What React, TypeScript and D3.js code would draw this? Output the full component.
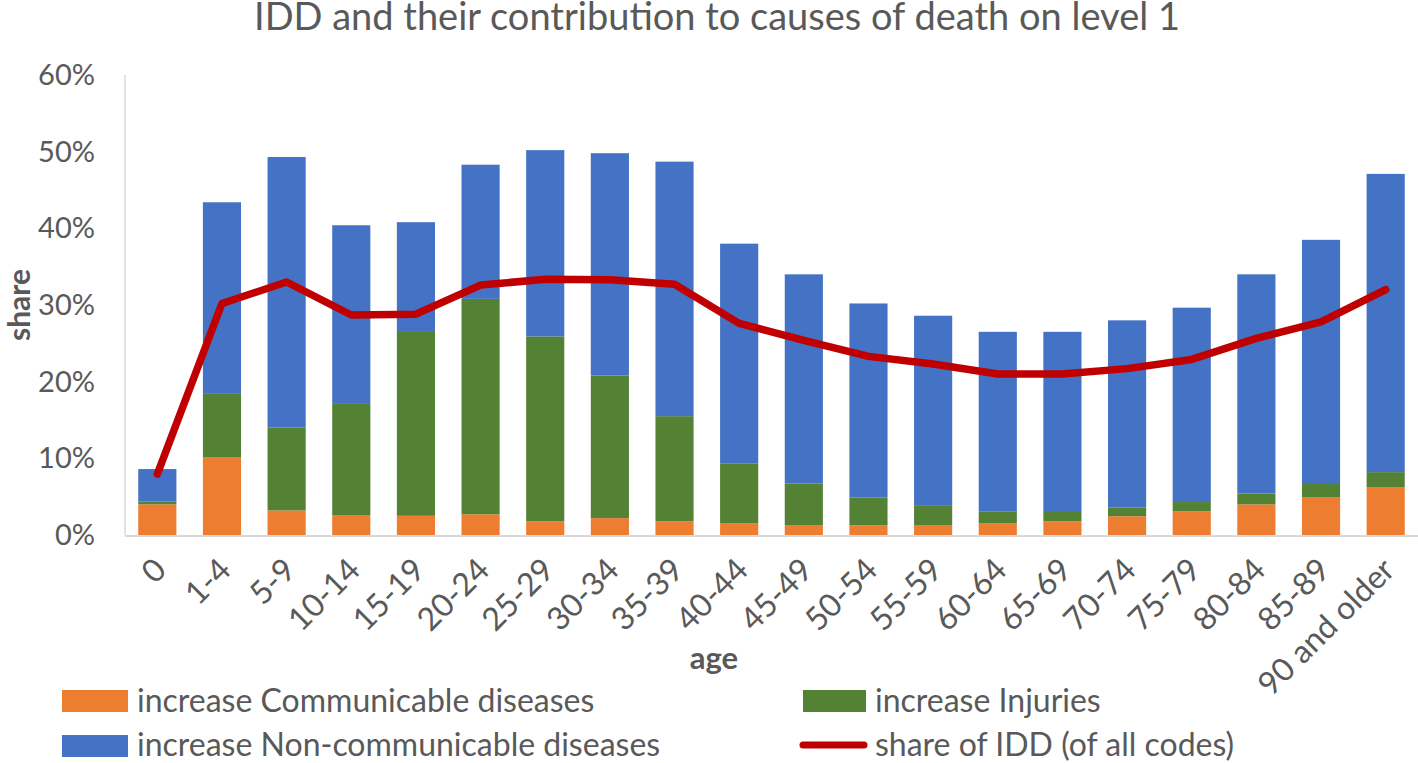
import React from "react";
import * as d3 from "d3";

const categories = ["0","1-4","5-9","10-14","15-19","20-24","25-29","30-34","35-39","40-44","45-49","50-54","55-59","60-64","65-69","70-74","75-79","80-84","85-89","90 and older"];
// increments (stack parts), in fraction
const communicable = [0.040,0.101,0.032,0.026,0.025,0.027,0.018,0.022,0.018,0.015,0.013,0.0125,0.013,0.015,0.018,0.0245,0.031,0.040,0.0495,0.0625];
const injuries = [0.0035,0.084,0.108,0.145,0.241,0.281,0.241,0.186,0.137,0.0785,0.054,0.0365,0.025,0.016,0.012,0.0115,0.012,0.014,0.017,0.0195];
const nonCommunicable = [0.0425,0.249,0.353,0.233,0.142,0.175,0.243,0.290,0.332,0.2865,0.273,0.253,0.248,0.234,0.235,0.244,0.2535,0.286,0.3185,0.389];
const shareIDD = [0.0795,0.302,0.330,0.287,0.288,0.326,0.3335,0.333,0.327,0.276,0.254,0.233,0.223,0.210,0.210,0.217,0.229,0.2565,0.278,0.320];
const yTicks = [0,0.1,0.2,0.3,0.4,0.5,0.6];
const seriesNames = ["increase Communicable diseases","increase Injuries","increase Non-communicable diseases","share of IDD (of all codes)"];
const colors = ["#ED7D31","#548235","#4472C4","#C00000"];

const W = 1418, H = 763;
const FONT = "Lato, 'Open Sans', sans-serif";
const TXT = "#595959";

export default function App() {
  const x = d3.scaleBand<string>().domain(categories).range([125, 1418]).paddingInner(0.41).paddingOuter(0.205);
  const y = d3.scaleLinear().domain([0, 0.6]).range([535, 75]);
  const fmt = d3.format(".0%");
  const rows = categories.map((c, i) => ({ c, a: communicable[i], b: injuries[i], n: nonCommunicable[i] }));
  const stack = d3.stack<any>().keys(["a", "b", "n"])(rows);
  const line = d3.line<number>().x((_, i) => (x(categories[i]) as number) + x.bandwidth() / 2).y(d => y(d));

  return (
    <svg width={W} height={H} style={{ position: "fixed", left: 0, top: 0, background: "#fff" }} fontFamily={FONT}>
      <rect width={W} height={H} fill="#fff" />
      <text x={717} y={30} textAnchor="middle" fontSize={38} fill={TXT}>IDD and their contribution to causes of death on level 1</text>
      <line x1={125} x2={125} y1={75} y2={535} stroke="#D9D9D9" strokeWidth={1.5} />
      {stack.map((s, si) => (
        <g key={si} fill={colors[si]}>
          {s.map((d, i) => (
            <rect key={i} x={x(categories[i])} width={x.bandwidth()} y={y(d[1])} height={y(d[0]) - y(d[1])} />
          ))}
        </g>
      ))}
      <line x1={125} x2={1418} y1={536} y2={536} stroke="#D9D9D9" strokeWidth={2} />
      <path d={line(shareIDD) || ""} fill="none" stroke={colors[3]} strokeWidth={7.5} strokeLinejoin="round" strokeLinecap="round" />
      {yTicks.map(t => (
        <text key={t} x={95} y={y(t)} dy="0.35em" textAnchor="end" fontSize={29} fill={TXT}>{fmt(t)}</text>
      ))}
      {categories.map(c => {
        const cx = (x(c) as number) + x.bandwidth() / 2;
        return (
          <text key={c} transform={`translate(${cx + 3},${564}) rotate(-45)`} textAnchor="end" dy="0.35em" fontSize={32} fill={TXT}>{c}</text>
        );
      })}
      <text transform="translate(30,305) rotate(-90)" textAnchor="middle" fontSize={30} fontWeight="bold" fill={TXT}>share</text>
      <text x={714} y={669} textAnchor="middle" fontSize={31} fontWeight="bold" fill={TXT}>age</text>
      {/* legend */}
      <rect x={62} y={690} width={66} height={22} fill={colors[0]} />
      <text x={137} y={712} fontSize={32} fill={TXT}>{seriesNames[0]}</text>
      <rect x={62} y={735} width={66} height={22} fill={colors[2]} />
      <text x={137} y={756} fontSize={32} fill={TXT}>{seriesNames[2]}</text>
      <rect x={803} y={690} width={63} height={22} fill={colors[1]} />
      <text x={875} y={712} fontSize={32} fill={TXT}>{seriesNames[1]}</text>
      <line x1={803} x2={864} y1={745} y2={745} stroke={colors[3]} strokeWidth={7} strokeLinecap="round" />
      <text x={875} y={756} fontSize={32} fill={TXT}>{seriesNames[3]}</text>
    </svg>
  );
}
